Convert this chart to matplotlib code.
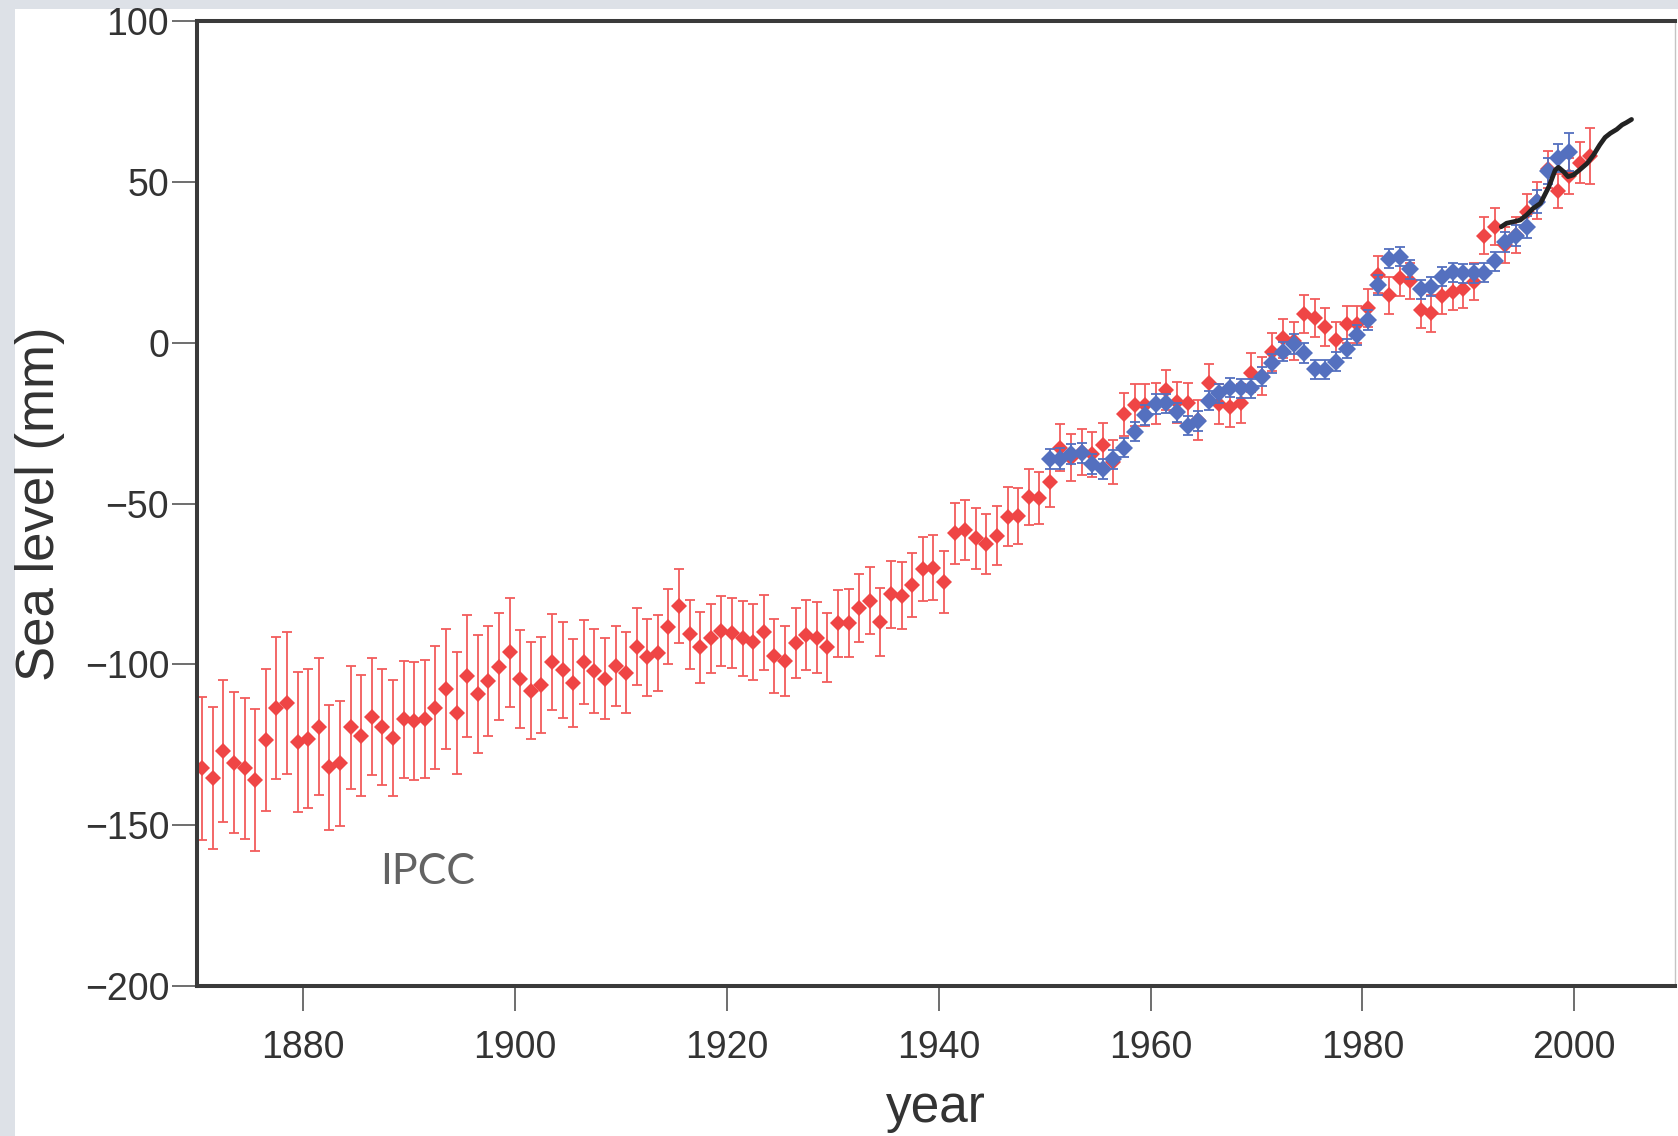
import numpy as np
import matplotlib
matplotlib.use("Agg")
import matplotlib.pyplot as plt
from matplotlib.patches import Rectangle

plt.rcParams['font.family'] = ['Liberation Sans', 'DejaVu Sans']

# Tide-gauge reconstruction (red), one value per year 1870-2001, mm
red_years = np.arange(1870, 2002)
red_level = [
    -132.4, -135.5, -127.0, -130.6, -132.4, -136.0, -123.6, -113.5, -112.0, -124.1,
    -123.2, -119.4, -132.1, -130.8, -119.6, -122.2, -116.3, -119.6, -122.9, -117.2,
    -117.6, -117.0, -113.5, -107.8, -115.3, -103.6, -109.3, -105.2, -100.8, -96.3,
    -104.7, -108.2, -106.5, -99.2, -101.8, -105.8, -99.4, -102.0, -104.6, -100.5,
    -102.6, -94.5, -97.8, -96.6, -88.3, -81.9, -90.7, -94.8, -91.9, -89.7,
    -90.3, -92.0, -93.2, -90.1, -97.4, -99.0, -93.5, -90.9, -91.7, -94.8,
    -87.3, -87.3, -82.4, -80.2, -86.8, -78.3, -78.7, -75.4, -70.4, -70.0,
    -74.5, -59.3, -58.2, -60.8, -62.6, -60.0, -54.1, -53.9, -48.1, -48.3,
    -43.4, -32.6, -35.8, -33.9, -34.7, -31.7, -37.1, -22.3, -19.4, -19.4,
    -19.0, -14.7, -18.5, -18.6, -24.0, -12.6, -19.0, -19.9, -18.8, -9.3,
    -10.3, -2.8, 1.4, 0.5, 9.0, 7.7, 5.0, 0.8, 5.8, 5.7,
    10.8, 21.2, 14.8, 20.3, 19.2, 10.2, 9.2, 14.6, 15.9, 16.6,
    19.0, 33.3, 36.1, 30.5, 33.5, 40.8, 44.2, 54.0, 47.2, 52.0,
    56.0, 58.1,
]
red_err = [
    22.2, 22.1, 22.1, 22.0, 22.0, 22.1, 22.0, 22.1, 22.1, 21.8,
    21.6, 21.4, 19.5, 19.5, 19.1, 18.8, 18.1, 18.1, 18.1, 18.1,
    18.3, 18.3, 19.1, 18.7, 19.0, 18.9, 18.4, 17.2, 16.7, 17.0,
    15.2, 15.0, 15.0, 14.9, 14.8, 13.7, 13.1, 13.1, 12.6, 12.5,
    12.7, 12.1, 12.0, 11.8, 11.7, 11.6, 10.8, 10.9, 10.7, 10.8,
    10.9, 11.7, 11.8, 11.6, 11.5, 10.8, 10.9, 10.9, 11.0, 10.7,
    10.4, 10.6, 10.6, 10.5, 10.5, 10.5, 10.5, 10.0, 10.0, 10.1,
    9.6, 9.4, 9.4, 9.5, 9.2, 9.2, 9.2, 8.8, 8.7, 8.0,
    7.8, 7.4, 7.3, 7.1, 7.0, 6.8, 6.8, 6.6, 6.5, 6.5,
    6.4, 6.3, 6.3, 6.2, 6.2, 6.1, 6.2, 6.2, 6.1, 6.1,
    6.0, 6.0, 6.0, 5.9, 5.8, 5.9, 5.9, 5.8, 5.8, 5.8,
    5.8, 5.8, 5.8, 5.8, 5.7, 5.7, 5.7, 5.7, 5.7, 5.7,
    5.7, 5.7, 5.7, 5.6, 5.6, 5.6, 5.7, 5.7, 5.2, 5.6,
    6.4, 8.8,
]

# Second reconstruction (blue), 1950-1999, mm
blue_years = np.arange(1950, 2000)
blue_level = [
    -36.2, -36.0, -34.5, -34.3, -37.8, -39.3, -36.2, -32.6, -27.7, -22.5,
    -19.0, -18.8, -21.6, -25.8, -24.3, -18.0, -15.7, -14.0, -14.2, -14.2,
    -10.5, -6.4, -2.8, -0.4, -3.2, -8.2, -8.4, -5.9, -1.8, 2.4,
    7.1, 18.0, 26.2, 26.8, 22.9, 16.6, 17.5, 20.6, 21.9, 21.6,
    21.6, 21.8, 25.4, 31.3, 33.3, 36.1, 43.9, 53.4, 57.6, 59.5,
]
blue_err = [
    3.2, 3.2, 3.1, 3.1, 3.1, 3.1, 3.0, 3.0, 3.0, 3.0,
    3.0, 3.0, 3.0, 3.0, 3.0, 3.0, 3.0, 3.0, 3.0, 3.0,
    3.0, 3.0, 3.0, 3.0, 3.0, 3.0, 3.0, 3.0, 3.0, 3.0,
    3.0, 3.0, 3.0, 3.0, 3.0, 3.0, 3.0, 3.0, 3.0, 3.0,
    3.0, 3.0, 3.0, 3.2, 3.3, 3.4, 3.6, 4.0, 4.4, 5.9,
]

# Satellite altimetry (black line)
alt_years = [1993.1, 1993.6, 1994.3, 1994.9, 1995.5, 1996.1, 1996.8, 1997.2, 1997.6,
             1997.9, 1998.2, 1998.5, 1999.0, 1999.4, 1999.9, 2000.5, 2001.2, 2001.8,
             2002.4, 2002.9, 2003.4, 2004.0, 2004.5, 2004.9, 2005.4]
alt_level = [36.1, 37.2, 37.7, 38.2, 39.8, 41.8, 43.4, 46.0, 48.6,
             51.2, 53.8, 54.6, 53.2, 51.7, 52.2, 53.8, 55.8, 58.4,
             61.6, 63.9, 65.2, 66.4, 67.8, 68.5, 69.5]

x_ticks = [1880, 1900, 1920, 1940, 1960, 1980, 2000]
y_ticks = [-200, -150, -100, -50, 0, 50, 100]

RED = '#ef4545'
RED_BAR = '#f25c5c'
BLUE = '#5470bf'

W, H = 1678, 1136
fig = plt.figure(figsize=(W / 100, H / 100), dpi=100)
fig.patch.set_facecolor('#dde1e7')
fig.add_artist(Rectangle((15 / W, 0), 1, 1 - 9 / H, transform=fig.transFigure,
                         facecolor='white', edgecolor='none', zorder=-10))

ax = fig.add_axes([197 / W, 1 - 985.6 / H, (1675 - 197) / W, (985.6 - 21.4) / H])

# annual means plotted at mid-year
rx = red_years + 0.5
bx = blue_years + 0.5
ax.errorbar(rx, red_level, yerr=red_err, fmt='none', ecolor=RED_BAR,
            elinewidth=1.3, capsize=3.8, capthick=1.3, zorder=2)
ax.plot(rx, red_level, 'D', ms=8.6, mew=0, color=RED, zorder=2.5)
ax.errorbar(bx, blue_level, yerr=blue_err, fmt='none', ecolor=BLUE,
            elinewidth=1.3, capsize=3.8, capthick=1.3, zorder=3)
ax.plot(bx, blue_level, 'D', ms=9.0, mew=0, color=BLUE, zorder=3.5)
ax.plot(alt_years, alt_level, color='#222222', lw=3.4, solid_capstyle='round',
        solid_joinstyle='round', zorder=4)

ax.text(1887.3, -168.4, 'IPCC', fontsize=31, color='#636363',
        family=['Lato', 'DejaVu Sans'], va='baseline')

ax.set_xlim(1870, 2009.5)
ax.set_ylim(-200, 100)
ax.set_xticks(x_ticks)
ax.set_yticks(y_ticks)

for side in ['left', 'bottom', 'top']:
    ax.spines[side].set_linewidth(2.9)
    ax.spines[side].set_color('#3a3a3a')
ax.spines['right'].set_linewidth(1.0)
ax.spines['right'].set_color('#c4c4c4')

ax.tick_params(direction='out', length=18, width=1.2, color='#555555',
               labelsize=27, labelcolor='#333333')
ax.tick_params(axis='x', pad=14)
ax.tick_params(axis='y', pad=2)

ax.set_xlabel('year', fontsize=37, color='#333333', labelpad=13)
ax.set_ylabel('Sea level (mm)', fontsize=38, color='#333333', labelpad=14)

fig.savefig('out.png', dpi=100, facecolor=fig.get_facecolor())
